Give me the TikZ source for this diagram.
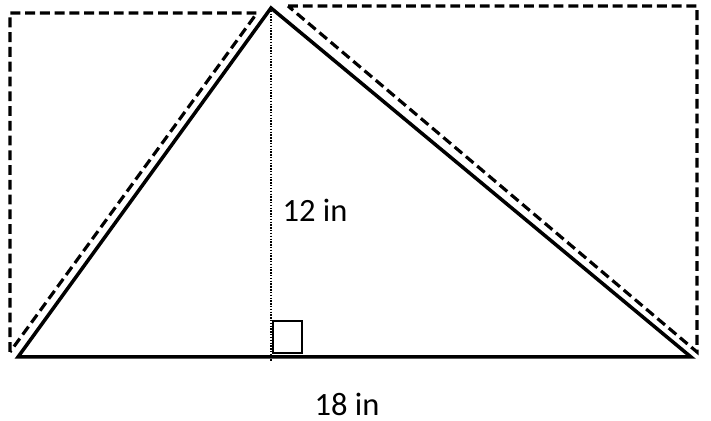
\documentclass[tikz,border=0pt]{standalone}
\usepackage{fontspec}
\setmainfont{Carlito}
\usetikzlibrary{calc}
\tikzset{dashbox/.style={line width=1.8pt,dash pattern=on 5.6pt off 2.8pt},
         side/.style={line width=2pt}}
\begin{document}
\begin{tikzpicture}[x=0.02cm,y=-0.02cm]
                      \useasboundingbox (0,0) rectangle (711,421);
                      % triangle
                      \coordinate (A) at (18,357);
                      \coordinate (B) at (691,357);
                      \coordinate (C) at (271,8);
                      \coordinate (H) at (271,362);
                      % dashed halves of the rectangle
                      \coordinate (L1) at (10,352);
                      \coordinate (L2) at (10,13);
                      \coordinate (L3) at (257,13);
                      \coordinate (R1) at (288,6);
                      \coordinate (R2) at (697,6);
                      \coordinate (R3) at (697,352);
                      \draw[dashbox] (L1) -- (L2) -- (L3) -- cycle;
                      \draw[dashbox] (R1) -- (R2) -- (R3) -- cycle;
                      \draw[line width=0.6pt,dash pattern=on 0.8pt off 0.8pt] (C) -- (H);
                      \draw[side,line join=miter] (A) -- (B) -- (C) -- cycle;
                      \draw[line width=1.3pt] (273,321) rectangle (302,353);
                      \node (h) at (315,210) {\fontsize{18.5}{22}\selectfont 12 in};
                      \node (b) at (347,404) {\fontsize{18.5}{22}\selectfont 18 in};
                  \end{tikzpicture}
\end{document}
